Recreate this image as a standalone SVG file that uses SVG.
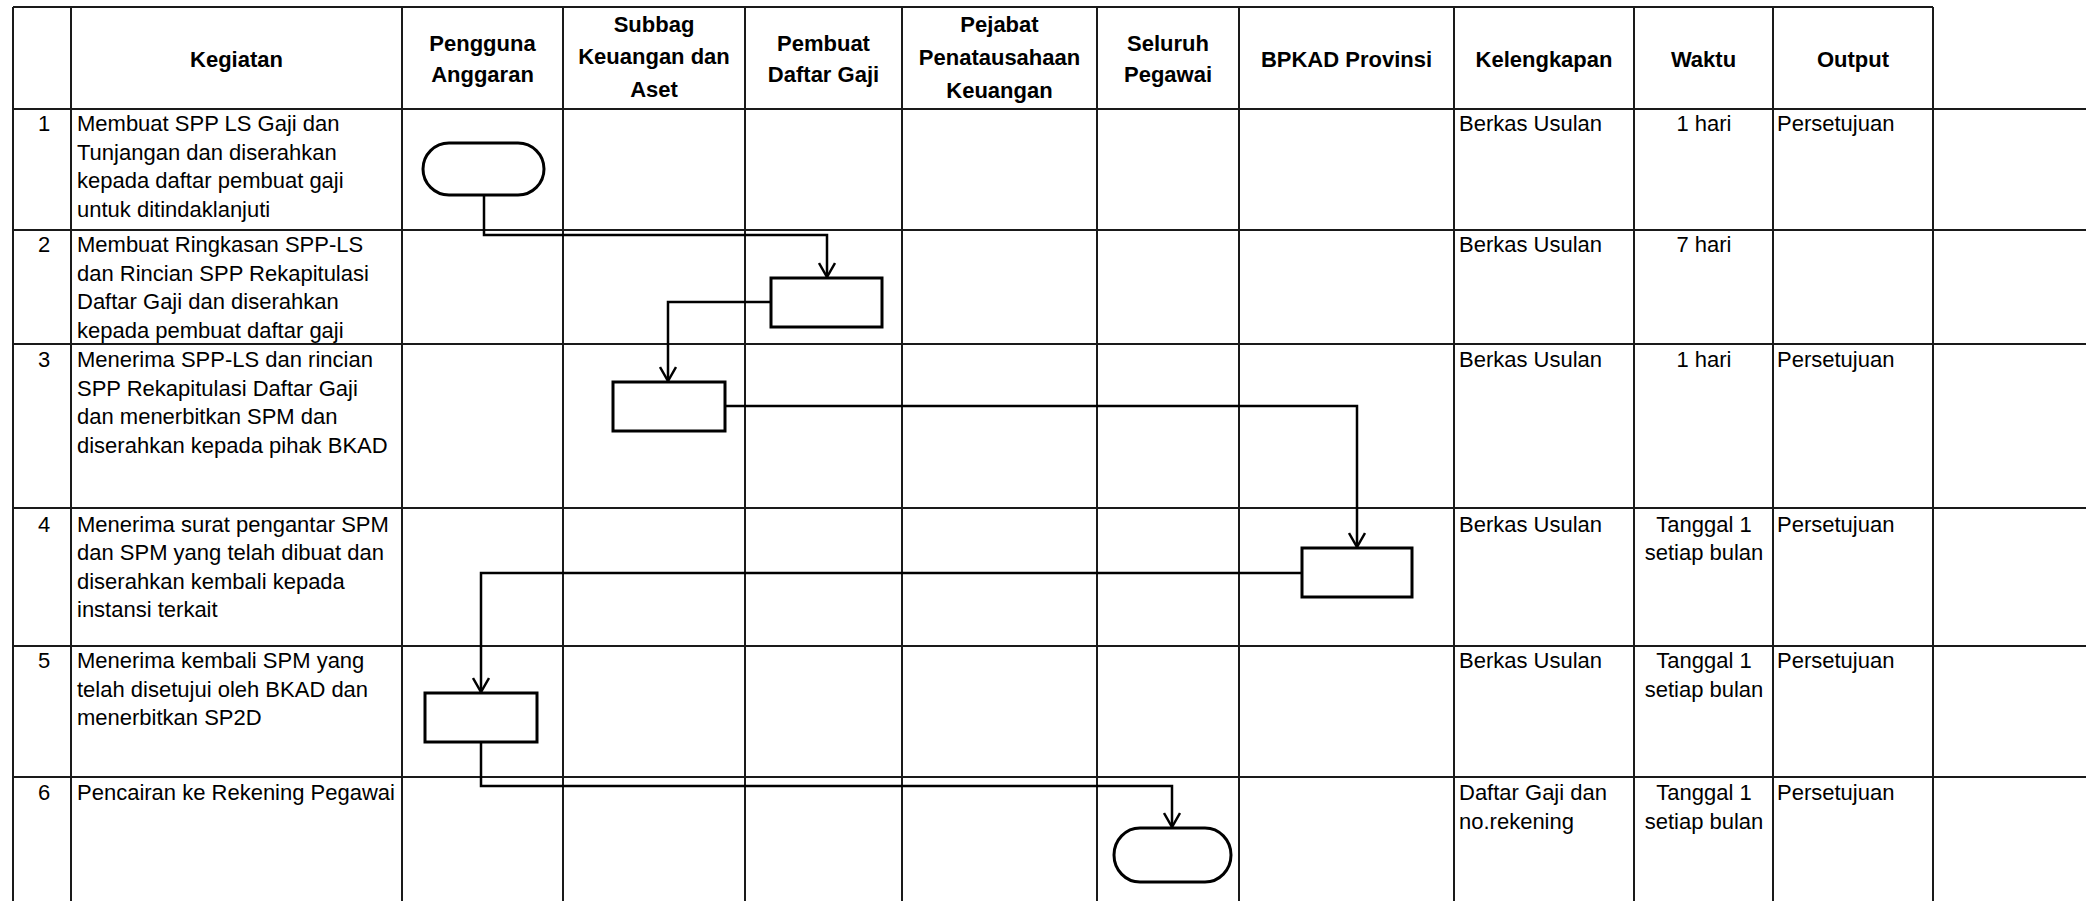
<svg xmlns="http://www.w3.org/2000/svg" width="2086" height="901" viewBox="0 0 2086 901">
<style>
.bg{fill:#ffffff}
.grid{stroke:#1a1a1a;stroke-width:2;fill:none}
.shape{fill:#ffffff;stroke:#000000;stroke-width:3}
.conn{fill:none;stroke:#000000;stroke-width:2.5}
text{font-family:"Liberation Sans",Arial,sans-serif;font-size:22px;fill:#000000}
.h{font-weight:bold;text-anchor:middle}
.c{text-anchor:middle}
</style>
<defs>
<marker id="arr" viewBox="0 0 16 18" refX="15" refY="9" markerWidth="16" markerHeight="18" markerUnits="userSpaceOnUse" orient="auto">
<path d="M1,1 L15,9 L1,17" fill="none" stroke="#000000" stroke-width="2.5"/>
</marker>
</defs>
<rect class="bg" x="0" y="0" width="2086" height="901"/>
<g id="table">
<path class="grid" d="M13,7 H1933 M13,109 H2086 M13,230 H2086 M13,344 H2086 M13,508 H2086 M13,646 H2086 M13,777 H2086"/>
<path class="grid" d="M13,7 V901 M71,7 V901 M402,7 V901 M563,7 V901 M745,7 V901 M902,7 V901 M1097,7 V901 M1239,7 V901 M1454,7 V901 M1634,7 V901 M1773,7 V901 M1933,7 V901"/>
</g>
<g id="header">
<text class="h" x="236.5" y="67">Kegiatan</text>
<text class="h" x="482.5" y="51">Pengguna</text>
<text class="h" x="482.5" y="82">Anggaran</text>
<text class="h" x="654" y="32">Subbag</text>
<text class="h" x="654" y="64">Keuangan dan</text>
<text class="h" x="654" y="97">Aset</text>
<text class="h" x="823.5" y="51">Pembuat</text>
<text class="h" x="823.5" y="82">Daftar Gaji</text>
<text class="h" x="999.5" y="32">Pejabat</text>
<text class="h" x="999.5" y="65">Penatausahaan</text>
<text class="h" x="999.5" y="98">Keuangan</text>
<text class="h" x="1168" y="51">Seluruh</text>
<text class="h" x="1168" y="82">Pegawai</text>
<text class="h" x="1346.5" y="67">BPKAD Provinsi</text>
<text class="h" x="1544" y="67">Kelengkapan</text>
<text class="h" x="1703.5" y="67">Waktu</text>
<text class="h" x="1853" y="67">Output</text>
</g>
<g id="row1">
<text class="c" x="44" y="131">1</text>
<text x="77" y="131">Membuat SPP LS Gaji dan</text>
<text x="77" y="160">Tunjangan dan diserahkan</text>
<text x="77" y="188">kepada daftar pembuat gaji</text>
<text x="77" y="217">untuk ditindaklanjuti</text>
<text x="1459" y="131">Berkas Usulan</text>
<text class="c" x="1704" y="131">1 hari</text>
<text x="1777" y="131">Persetujuan</text>
</g>
<g id="row2">
<text class="c" x="44" y="252">2</text>
<text x="77" y="252">Membuat Ringkasan SPP-LS</text>
<text x="77" y="281">dan Rincian SPP Rekapitulasi</text>
<text x="77" y="309">Daftar Gaji dan diserahkan</text>
<text x="77" y="338">kepada pembuat daftar gaji</text>
<text x="1459" y="252">Berkas Usulan</text>
<text class="c" x="1704" y="252">7 hari</text>
</g>
<g id="row3">
<text class="c" x="44" y="367">3</text>
<text x="77" y="367">Menerima SPP-LS dan rincian</text>
<text x="77" y="396">SPP Rekapitulasi Daftar Gaji</text>
<text x="77" y="424">dan menerbitkan SPM dan</text>
<text x="77" y="453">diserahkan kepada pihak BKAD</text>
<text x="1459" y="367">Berkas Usulan</text>
<text class="c" x="1704" y="367">1 hari</text>
<text x="1777" y="367">Persetujuan</text>
</g>
<g id="row4">
<text class="c" x="44" y="532">4</text>
<text x="77" y="532">Menerima surat pengantar SPM</text>
<text x="77" y="560">dan SPM yang telah dibuat dan</text>
<text x="77" y="589">diserahkan kembali kepada</text>
<text x="77" y="617">instansi terkait</text>
<text x="1459" y="532">Berkas Usulan</text>
<text class="c" x="1704" y="532">Tanggal 1</text>
<text class="c" x="1704" y="560">setiap bulan</text>
<text x="1777" y="532">Persetujuan</text>
</g>
<g id="row5">
<text class="c" x="44" y="668">5</text>
<text x="77" y="668">Menerima kembali SPM yang</text>
<text x="77" y="697">telah disetujui oleh BKAD dan</text>
<text x="77" y="725">menerbitkan SP2D</text>
<text x="1459" y="668">Berkas Usulan</text>
<text class="c" x="1704" y="668">Tanggal 1</text>
<text class="c" x="1704" y="697">setiap bulan</text>
<text x="1777" y="668">Persetujuan</text>
</g>
<g id="row6">
<text class="c" x="44" y="800">6</text>
<text x="77" y="800">Pencairan ke Rekening Pegawai</text>
<text x="1459" y="800">Daftar Gaji dan</text>
<text x="1459" y="829">no.rekening</text>
<text class="c" x="1704" y="800">Tanggal 1</text>
<text class="c" x="1704" y="829">setiap bulan</text>
<text x="1777" y="800">Persetujuan</text>
</g>
<g id="connectors">
<path class="conn" d="M484,195 V235 H827 V277" marker-end="url(#arr)"/>
<path class="conn" d="M771,302 H668 V381" marker-end="url(#arr)"/>
<path class="conn" d="M725,406 H1357 V547" marker-end="url(#arr)"/>
<path class="conn" d="M1302,573 H481 V692" marker-end="url(#arr)"/>
<path class="conn" d="M481,742 V786 H1172 V827" marker-end="url(#arr)"/>
</g>
<g id="node-start">
<rect class="shape" x="423" y="143" width="121" height="52" rx="26" ry="26"/>
</g>
<g id="node-pembuat">
<rect class="shape" x="771" y="278" width="111" height="49"/>
</g>
<g id="node-subbag">
<rect class="shape" x="613" y="382" width="112" height="49"/>
</g>
<g id="node-bpkad">
<rect class="shape" x="1302" y="548" width="110" height="49"/>
</g>
<g id="node-pengguna">
<rect class="shape" x="425" y="693" width="112" height="49"/>
</g>
<g id="node-end">
<rect class="shape" x="1114" y="828" width="117" height="54" rx="26" ry="27"/>
</g>
</svg>
